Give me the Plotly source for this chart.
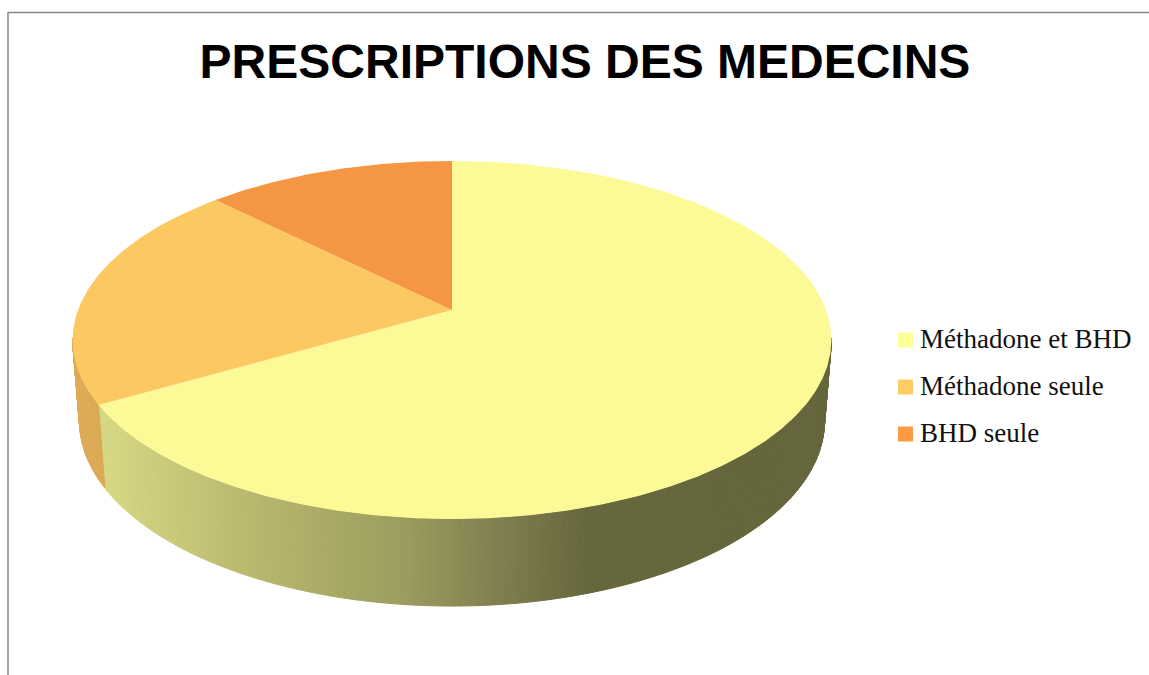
import math
import plotly.graph_objects as go

# Data
categories = ["Méthadone et BHD", "Méthadone seule", "BHD seule"]
values = [16, 5, 3]
top_colors = ["#FBFA96", "#FCC862", "#F59642"]
legend_colors = ["#FFFF99", "#FFCC66", "#FF9944"]
title_text = "PRESCRIPTIONS DES MEDECINS"

# Projection of the tilted disc (pixel-space axes)
CX, CY, A, B, K = 452.0, 310.0, 374.0, 174.0, 0.1676
WALL_SCALE = 0.982

def project(t_deg):
    t = math.radians(t_deg)
    u, v = math.sin(t), math.cos(t)
    w = 1 + K * v
    return CX + A * u / w, CY - B * v / w

def lower(x, y):
    return CX + (x - CX) * WALL_SCALE, y + 83 + (y - 404) * 0.035

def lerp_color(stops, x):
    if x <= stops[0][0]:
        return "rgb(%d,%d,%d)" % stops[0][1]
    for (x0, c0), (x1, c1) in zip(stops, stops[1:]):
        if x <= x1:
            f = (x - x0) / (x1 - x0)
            return "rgb(%d,%d,%d)" % tuple(round(a + (b - a) * f) for a, b in zip(c0, c1))
    return "rgb(%d,%d,%d)" % stops[-1][1]

yellow_wall = [(107, (213, 215, 130)), (250, (184, 184, 110)), (400, (157, 157, 95)),
               (500, (128, 126, 78)), (590, (103, 103, 61)), (830, (102, 102, 60))]
orange_wall = [(75, (222, 172, 88)), (107, (216, 168, 82))]

fig = go.Figure()
total = sum(values)
spans = []
start = 0.0
for val in values:
    end = start + 360.0 * val / total
    spans.append((start, end))
    start = end

# Side wall, drawn as narrow bands so the shading runs across it
def wall(t0, t1, stops):
    n = max(1, int((t1 - t0) / 0.75))
    for i in range(n):
        a = t0 + (t1 - t0) * i / n
        b = t0 + (t1 - t0) * (i + 1) / n
        x0, y0 = project(a)
        x1, y1 = project(b)
        x2, y2 = lower(x1, y1)
        x3, y3 = lower(x0, y0)
        col = lerp_color(stops, (x0 + x1) / 2)
        fig.add_trace(go.Scatter(x=[x0, x1, x2, x3, x0], y=[y0, y1, y2, y3, y0], mode="lines",
                                 fill="toself", fillcolor=col, line=dict(color=col, width=1),
                                 hoverinfo="skip", showlegend=False))

wall(99, spans[0][1], yellow_wall)
wall(spans[1][0], 261, orange_wall)

# Top face
for (a, b), col, name in zip(spans, top_colors, categories):
    n = max(2, int(b - a) * 2)
    pts = [project(a + (b - a) * i / n) for i in range(n + 1)]
    xs = [CX] + [p[0] for p in pts] + [CX]
    ys = [CY] + [p[1] for p in pts] + [CY]
    fig.add_trace(go.Scatter(x=xs, y=ys, mode="lines", fill="toself", fillcolor=col,
                             line=dict(width=0, color=col), name=name, hoverinfo="name", showlegend=False))

# Legend
for i, (name, col) in enumerate(zip(categories, legend_colors)):
    fig.add_trace(go.Scatter(x=[905.5], y=[340 + 47 * i], mode="markers", name=name,
                             marker=dict(symbol="square", size=15, color=col),
                             hoverinfo="name", showlegend=False))
    fig.add_trace(go.Scatter(x=[920], y=[341.5 + 47 * i], mode="text", name=name,
                             text=[name], textposition="middle right",
                             textfont=dict(family="Liberation Serif", size=27, color="#111111"),
                             hoverinfo="skip", showlegend=False, cliponaxis=False))

fig.update_layout(
    width=1149, height=675, margin=dict(l=0, r=0, t=0, b=0),
    paper_bgcolor="white", plot_bgcolor="white", showlegend=False,
    xaxis=dict(range=[0, 1149], visible=False, fixedrange=True),
    yaxis=dict(range=[675, 0], visible=False, fixedrange=True),
    title=dict(text="<b>" + title_text + "</b>", x=585 / 1149, xanchor="center", xref="paper",
               y=1 - 61 / 675, yanchor="middle", yref="container",
               font=dict(family="Liberation Sans", size=48, color="black")),
    shapes=[
        dict(type="line", xref="x", yref="y", x0=8, x1=8, y0=12, y1=675, line=dict(color="#888888", width=1.5)),
        dict(type="line", xref="x", yref="y", x0=8, x1=1149, y0=12.5, y1=12.5, line=dict(color="#888888", width=1.5)),
    ],
)

fig.write_html("out.html", config={"displayModeBar": False},
               post_script="document.body.style.margin='0';document.body.style.overflow='hidden';")
